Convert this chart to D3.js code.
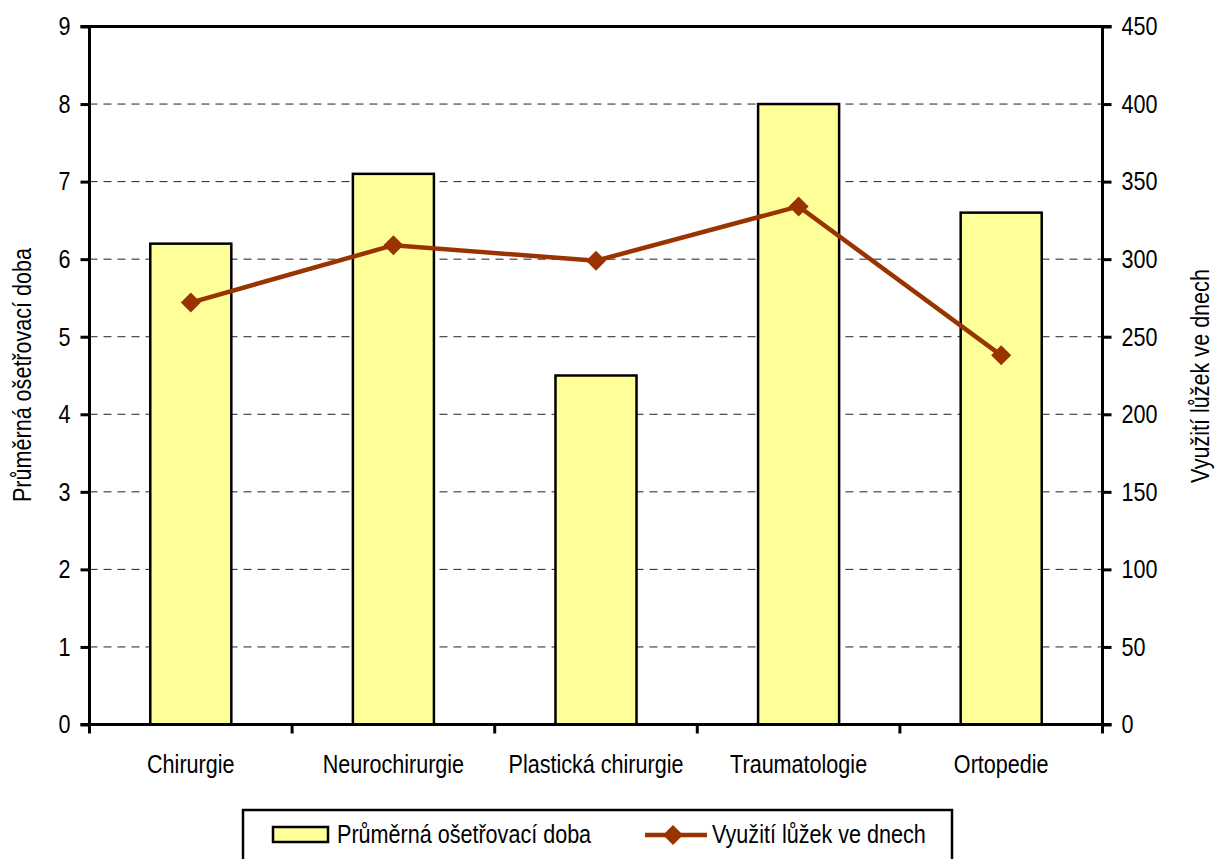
<!DOCTYPE html>
<html>
<head>
<meta charset="utf-8">
<script src="https://cdn.jsdelivr.net/npm/d3@7"></script>
<style>
  body { margin: 0; background: #fff; }
  svg { display: block; }
  text { font-family: "Liberation Sans", Arial, sans-serif; fill: #000; }
</style>
</head>
<body>
<svg id="chart" width="1215" height="859"></svg>
<script>
const categories = ["Chirurgie", "Neurochirurgie", "Plastická chirurgie", "Traumatologie", "Ortopedie"];
const barValues = [6.2, 7.1, 4.5, 8.0, 6.6];
const lineValues = [272, 309, 299, 334, 238];
const leftTicks = [0, 1, 2, 3, 4, 5, 6, 7, 8, 9];
const rightTicks = [0, 50, 100, 150, 200, 250, 300, 350, 400, 450];
const barName = "Průměrná ošetřovací doba";
const lineName = "Využití lůžek ve dnech";

const svg = d3.select("#chart");
const L = 89.5, R = 1102.5, T = 26.5, B = 724.5;
const fontSize = 26;
const sx = 0.83; // narrow font emulation

const x = d3.scaleBand().domain(categories).range([L, R]).paddingInner(0).paddingOuter(0);
const yL = d3.scaleLinear().domain([0, 9]).range([B, T]);
const yR = d3.scaleLinear().domain([0, 450]).range([B, T]);

// gridlines
svg.append("g").selectAll("line").data(leftTicks.filter(d => d > 0 && d < 9)).join("line")
  .attr("x1", L).attr("x2", R).attr("y1", d => yL(d)).attr("y2", d => yL(d))
  .attr("stroke", "#222").attr("stroke-width", 1).attr("stroke-dasharray", "8,6");

// bars
const bw = x.bandwidth() * 0.4;
svg.append("g").selectAll("rect").data(categories).join("rect")
  .attr("x", (d) => x(d) + x.bandwidth() / 2 - bw / 2)
  .attr("width", bw)
  .attr("y", (d, i) => yL(barValues[i]))
  .attr("height", (d, i) => B - yL(barValues[i]))
  .attr("fill", "#FFFF99").attr("stroke", "#000").attr("stroke-width", 2.5);

// top border
svg.append("line").attr("x1", L).attr("x2", R).attr("y1", T).attr("y2", T)
  .attr("stroke", "#000").attr("stroke-width", 3);

// axes
const leftAxis = d3.axisLeft(yL).tickValues(leftTicks).tickSize(9).tickPadding(10).tickFormat(d3.format("d"));
const gL = svg.append("g").attr("transform", `translate(${L},0)`).call(leftAxis);
const rightAxis = d3.axisRight(yR).tickValues(rightTicks).tickSize(9).tickPadding(10).tickFormat(d3.format("d"));
const gR = svg.append("g").attr("transform", `translate(${R},0)`).call(rightAxis);
const xAxis = d3.axisBottom(x).tickSize(0).tickPadding(30);
const gX = svg.append("g").attr("transform", `translate(0,${B})`).call(xAxis);
[gL, gR, gX].forEach(g => {
  g.select(".domain").attr("stroke", "#000").attr("stroke-width", 3);
  g.selectAll(".tick line").attr("stroke", "#000").attr("stroke-width", 3);
  g.selectAll(".tick text").attr("font-size", fontSize).attr("font-family", null)
    .attr("x", function() { return (+d3.select(this).attr("x") || 0) / sx; })
    .attr("transform", `scale(${sx},1)`);
});
gL.select(".domain").attr("d", `M-9,${T}H0V${B}H-9`);
gR.select(".domain").attr("d", `M9,${T}H0V${B}H9`);
gX.select(".domain").attr("d", `M${L},0H${R}`);
// category boundary ticks
svg.append("g").selectAll("line").data(d3.range(categories.length + 1)).join("line")
  .attr("x1", i => L + i * x.bandwidth()).attr("x2", i => L + i * x.bandwidth())
  .attr("y1", B).attr("y2", B + 9)
  .attr("stroke", "#000").attr("stroke-width", 3);

// line
const cx = (d) => x(d) + x.bandwidth() / 2;
const lineGen = d3.line().x((d, i) => cx(categories[i])).y(d => yR(d));
svg.append("path").datum(lineValues).attr("d", lineGen)
  .attr("fill", "none").attr("stroke", "#993300").attr("stroke-width", 4.5);
svg.append("g").selectAll("path").data(lineValues).join("path")
  .attr("d", d3.symbol().type(d3.symbolSquare).size(200))
  .attr("transform", (d, i) => `translate(${cx(categories[i])},${yR(d)}) rotate(45)`)
  .attr("fill", "#993300");

// axis titles
svg.append("text").attr("transform", `translate(31,375) rotate(-90) scale(${sx},1)`)
  .attr("text-anchor", "middle").attr("font-size", fontSize).text(barName);
svg.append("text").attr("transform", `translate(1209,376) rotate(-90) scale(${sx},1)`)
  .attr("text-anchor", "middle").attr("font-size", fontSize).text(lineName);

// legend
const lg = svg.append("g");
lg.append("rect").attr("x", 243).attr("y", 810).attr("width", 709).attr("height", 60)
  .attr("fill", "#fff").attr("stroke", "#000").attr("stroke-width", 2.5);
lg.append("rect").attr("x", 273).attr("y", 827).attr("width", 55).attr("height", 15)
  .attr("fill", "#FFFF99").attr("stroke", "#000").attr("stroke-width", 2.5);
lg.append("text").attr("transform", `translate(337,843) scale(${sx},1)`)
  .attr("font-size", fontSize).text(barName);
lg.append("line").attr("x1", 645).attr("x2", 707).attr("y1", 835).attr("y2", 835)
  .attr("stroke", "#993300").attr("stroke-width", 4.5);
lg.append("path").attr("d", d3.symbol().type(d3.symbolSquare).size(200))
  .attr("transform", "translate(673,835) rotate(45)").attr("fill", "#993300");
lg.append("text").attr("transform", `translate(712,843) scale(${sx},1)`)
  .attr("font-size", fontSize).text(lineName);
</script>
</body>
</html>
